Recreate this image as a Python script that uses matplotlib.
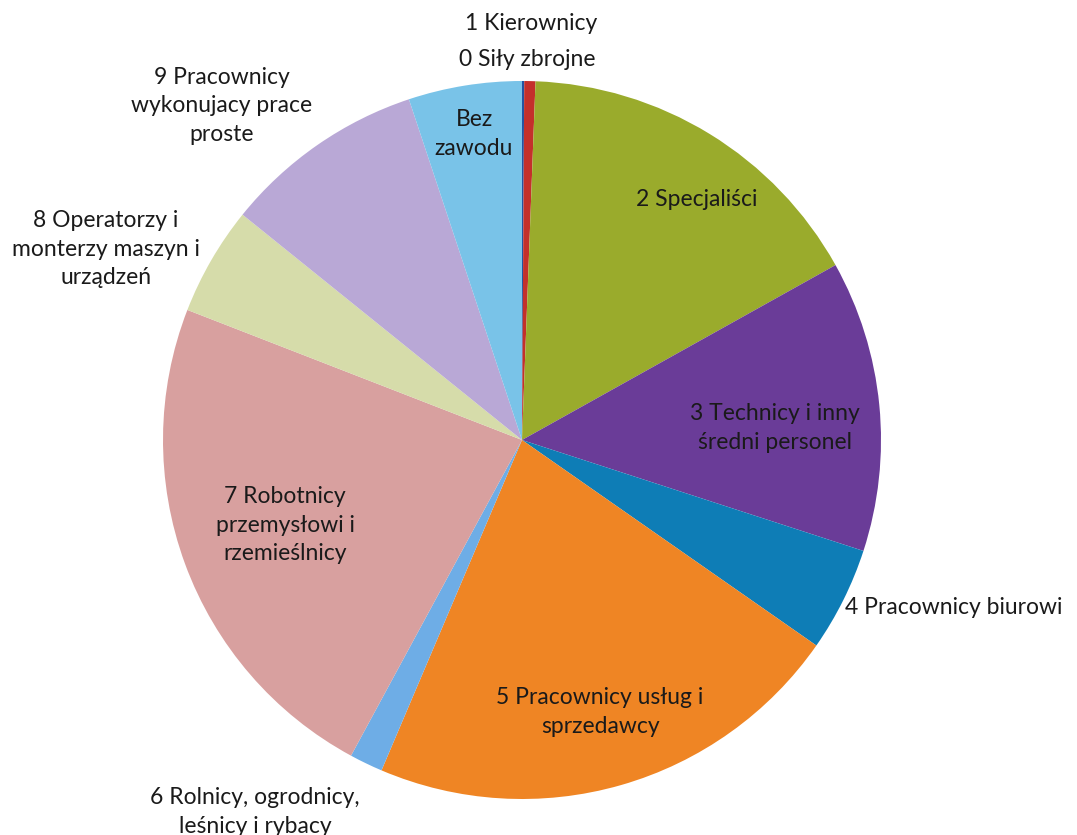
import matplotlib
matplotlib.use('Agg')
from matplotlib import pyplot as plt

plt.rcParams['font.family'] = ['Lato', 'DejaVu Sans']

groups = ['0 Siły zbrojne', '1 Kierownicy', '2 Specjaliści',
          '3 Technicy i inny średni personel', '4 Pracownicy biurowi',
          '5 Pracownicy usług i sprzedawcy',
          '6 Rolnicy, ogrodnicy, leśnicy i rybacy',
          '7 Robotnicy przemysłowi i rzemieślnicy',
          '8 Operatorzy i monterzy maszyn i urządzeń',
          '9 Pracownicy wykonujacy prace proste', 'Bez zawodu']
shares = [0.1, 0.5, 16.3, 13.1, 4.7, 21.7, 1.5, 23.0, 4.9, 9.1, 5.1]
colors = ['#2455a2', '#c4302b', '#9aab2c', '#6a3c98', '#0e7db6', '#ef8524',
          '#6eade6', '#d8a09f', '#d6dcaa', '#b9a8d6', '#79c3e8']

W, H = 1077, 835
cx, cy, R = 522, 440, 359

fig = plt.figure(figsize=(W / 100, H / 100), dpi=100)
ax = fig.add_axes([0, 0, 1, 1])
ax.pie(shares, colors=colors, startangle=90, counterclock=False,
       radius=1, center=(0, 0), wedgeprops=dict(linewidth=0))
ax.set_xlim(-cx / R, (W - cx) / R)
ax.set_ylim(-(H - cy) / R, cy / R)
ax.set_aspect('equal')
ax.axis('off')


def label(px, py, s, ha='center'):
    ax.text((px - cx) / R, (cy - py) / R, s, ha=ha, va='center',
            fontsize=16.5, color='#1a1a1a', linespacing=1.45)


label(531, 23, '1 Kierownicy')
label(527, 60, '0 Siły zbrojne')
label(222, 106, '9 Pracownicy\nwykonujacy prace\nproste')
label(106, 249, '8 Operatorzy i\nmonterzy maszyn i\nurządzeń')
label(474, 134, 'Bez\nzawodu')
label(697, 200, '2 Specjaliści')
label(775, 428, '3 Technicy i inny\nśredni personel')
label(845, 607, '4 Pracownicy biurowi', ha='left')
label(600, 712, '5 Pracownicy usług i\nsprzedawcy')
label(255, 812, '6 Rolnicy, ogrodnicy,\nleśnicy i rybacy')
label(285, 525, '7 Robotnicy\nprzemysłowi i\nrzemieślnicy')

fig.savefig('out.png', dpi=100)
